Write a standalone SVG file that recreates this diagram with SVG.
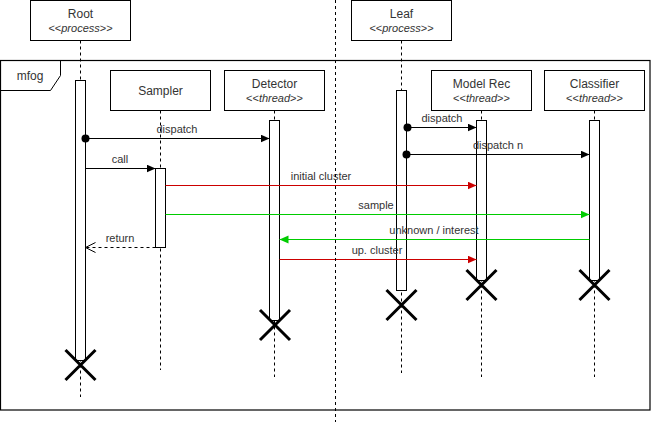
<svg xmlns="http://www.w3.org/2000/svg" width="652" height="422" viewBox="0 0 652 422">
<style>
text{font-family:"Liberation Sans",Arial,sans-serif;fill:#333;text-anchor:middle}
.t{font-size:12px}
.s{font-size:11px}
.l{font-size:11px}
.box{fill:#fff;stroke:#000;stroke-width:1}
.life{stroke:#000;stroke-width:1;stroke-dasharray:3,3;fill:none}
.act{fill:#fff;stroke:#000;stroke-width:1}
.x{stroke:#000;stroke-width:3;fill:none}
.m{stroke:#000;stroke-width:1;fill:none}
.red{stroke:#CC0000;stroke-width:1;fill:none}
.grn{stroke:#00CC00;stroke-width:1;fill:none}
</style>
<defs>
<marker id="ab" markerWidth="10" markerHeight="10" refX="9" refY="4" orient="auto" markerUnits="userSpaceOnUse"><path d="M0,0 L9,4 L0,8 Z" fill="#000"/></marker>
<marker id="ar" markerWidth="10" markerHeight="10" refX="9" refY="4" orient="auto" markerUnits="userSpaceOnUse"><path d="M0,0 L9,4 L0,8 Z" fill="#CC0000"/></marker>
<marker id="ag" markerWidth="10" markerHeight="10" refX="9" refY="4" orient="auto" markerUnits="userSpaceOnUse"><path d="M0,0 L9,4 L0,8 Z" fill="#00CC00"/></marker>
<marker id="ao" markerWidth="12" markerHeight="12" refX="10" refY="5" orient="auto" markerUnits="userSpaceOnUse"><path d="M0,0 L10,5 L0,10" fill="none" stroke="#000" stroke-width="1"/></marker>
</defs>
<rect x="0" y="0" width="652" height="422" fill="#fff"/>

<g id="frame-mfog">
<rect x="0.5" y="60.5" width="649.5" height="349.5" fill="none" stroke="#000" stroke-width="1.2"/>
<path d="M0.5,60.5 H60.5 V75.5 L50.5,90.5 H0.5" fill="none" stroke="#000" stroke-width="1"/>
<text class="t" x="30" y="80">mfog</text>
</g>

<g id="root">
<line class="life" x1="80.5" y1="40.5" x2="80.5" y2="397"/>
<rect class="box" x="30.5" y="0.5" width="100" height="40"/>
<text class="t" x="80.5" y="18">Root</text>
<text class="s" x="80.5" y="32">&lt;&lt;<tspan font-style="italic">process</tspan>&gt;&gt;</text>
<rect class="act" x="75.5" y="80.5" width="10" height="280"/>
<path class="x" d="M65.5,350 L95.5,380 M95.5,350 L65.5,380"/>
</g>

<g id="leaf">
<line class="life" x1="401.5" y1="40.5" x2="401.5" y2="373"/>
<rect class="box" x="351.5" y="0.5" width="100" height="40"/>
<text class="t" x="401.5" y="18">Leaf</text>
<text class="s" x="401.5" y="32">&lt;&lt;<tspan font-style="italic">process</tspan>&gt;&gt;</text>
<rect class="act" x="396.5" y="90.5" width="10" height="200"/>
<path class="x" d="M386.5,290 L416.5,320 M416.5,290 L386.5,320"/>
</g>

<g id="sampler">
<line class="life" x1="160.5" y1="110.5" x2="160.5" y2="370"/>
<rect class="box" x="110.5" y="70.5" width="100" height="40"/>
<text class="t" x="160.5" y="95">Sampler</text>
<rect class="act" x="155.5" y="168.5" width="10" height="79"/>
</g>

<g id="detector">
<line class="life" x1="274.5" y1="110.5" x2="274.5" y2="377"/>
<rect class="box" x="224.5" y="70.5" width="100" height="40"/>
<text class="t" x="274.5" y="88">Detector</text>
<text class="s" x="274.5" y="102">&lt;&lt;<tspan font-style="italic">thread</tspan>&gt;&gt;</text>
<rect class="act" x="269.5" y="120.5" width="10" height="200"/>
<path class="x" d="M260,310 L290,340 M290,310 L260,340"/>
</g>

<g id="modelrec">
<line class="life" x1="481.5" y1="110.5" x2="481.5" y2="377"/>
<rect class="box" x="431.5" y="70.5" width="100" height="40"/>
<text class="t" x="481.5" y="88">Model Rec</text>
<text class="s" x="481.5" y="102">&lt;&lt;<tspan font-style="italic">thread</tspan>&gt;&gt;</text>
<rect class="act" x="476.5" y="120.5" width="10" height="160"/>
<path class="x" d="M466.5,270 L496.5,300 M496.5,270 L466.5,300"/>
</g>

<g id="classifier">
<line class="life" x1="594.5" y1="110.5" x2="594.5" y2="377"/>
<rect class="box" x="544.5" y="70.5" width="100" height="40"/>
<text class="t" x="594.5" y="88">Classifier</text>
<text class="s" x="594.5" y="102">&lt;&lt;<tspan font-style="italic">thread</tspan>&gt;&gt;</text>
<rect class="act" x="589.5" y="120.5" width="10" height="160"/>
<path class="x" d="M579.5,270 L609.5,300 M609.5,270 L579.5,300"/>
</g>

<g id="connectors">
<line class="m" x1="85.5" y1="138.5" x2="269.5" y2="138.5" marker-end="url(#ab)"/>
<circle cx="85.5" cy="138.5" r="4" fill="#000"/>
<text class="l" x="177" y="133">dispatch</text>

<line class="m" x1="85.5" y1="168.5" x2="155.5" y2="168.5" marker-end="url(#ab)"/>
<text class="l" x="120" y="163">call</text>

<line class="red" x1="165.5" y1="185.5" x2="476.5" y2="185.5" marker-end="url(#ar)"/>
<text class="l" x="321" y="180">initial cluster</text>

<line class="grn" x1="165.5" y1="214.5" x2="589.5" y2="214.5" marker-end="url(#ag)"/>
<text class="l" x="376" y="209">sample</text>

<line class="grn" x1="589.5" y1="239.5" x2="279.5" y2="239.5" marker-end="url(#ag)"/>
<text class="l" x="434" y="234">unknown / interest</text>

<line class="m" x1="155.5" y1="247.5" x2="85.5" y2="247.5" stroke-dasharray="3,3" marker-end="url(#ao)"/>
<text class="l" x="120" y="242">return</text>

<line class="red" x1="279.5" y1="259.5" x2="476.5" y2="259.5" marker-end="url(#ar)"/>
<text class="l" x="377" y="254">up. cluster</text>

<line class="m" x1="407.5" y1="127.5" x2="476.5" y2="127.5" marker-end="url(#ab)"/>
<circle cx="407.5" cy="127.5" r="4" fill="#000"/>
<text class="l" x="442" y="122">dispatch</text>

<line class="m" x1="406.5" y1="154.5" x2="589.5" y2="154.5" marker-end="url(#ab)"/>
<circle cx="406.5" cy="154.5" r="4" fill="#000"/>
<text class="l" x="498" y="149">dispatch n</text>
</g>

<g id="separator">
<line x1="335.5" y1="0" x2="335.5" y2="422" stroke="#000" stroke-width="1" stroke-dasharray="3,3"/>
</g>
</svg>
